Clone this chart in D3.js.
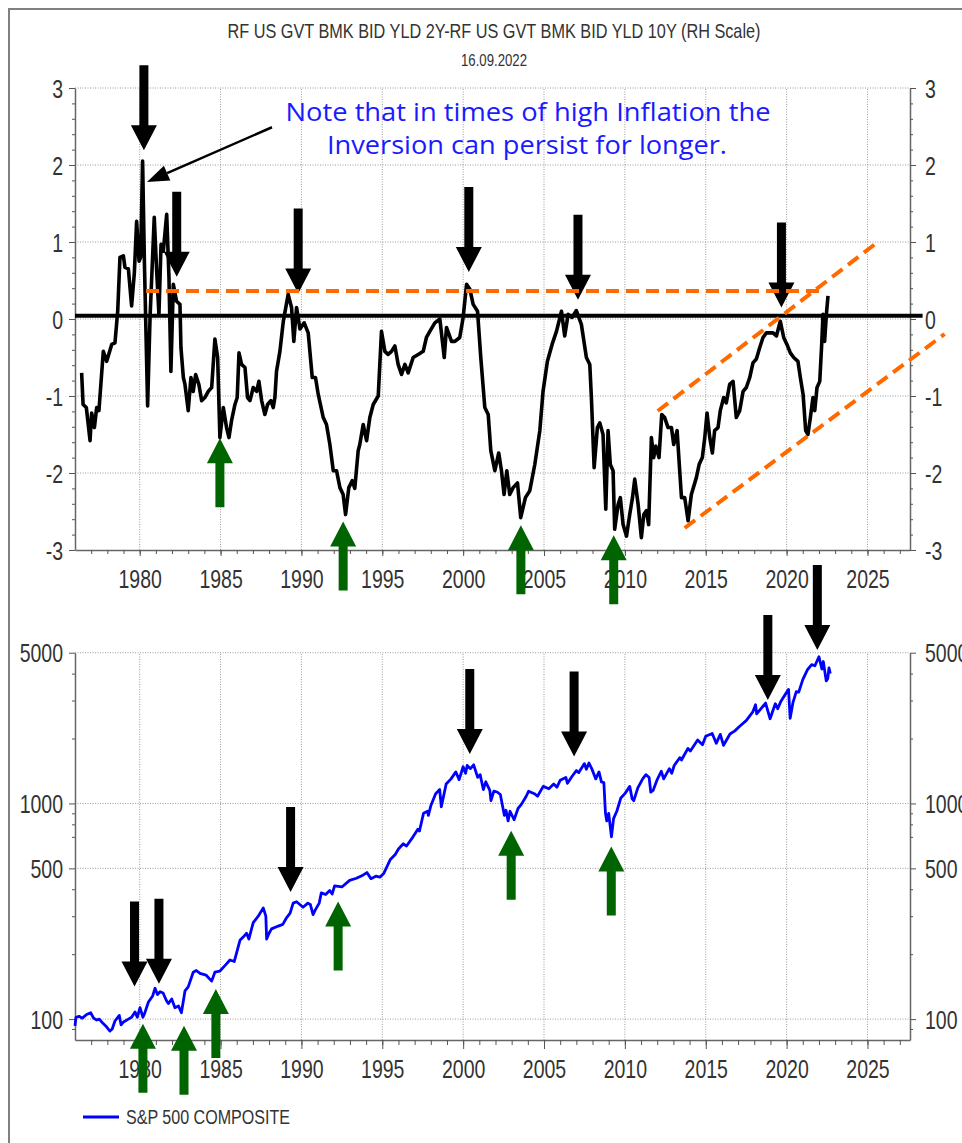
<!DOCTYPE html>
<html>
<head>
<meta charset="utf-8">
<script src="https://cdn.jsdelivr.net/npm/d3@7"></script>
<style>
  body { margin: 0; background: #fff; }
  svg { display: block; }
  .tick text { font-family: "Liberation Sans", Arial, sans-serif; font-size: 25px; fill: #333; }
  .tick line { stroke: #555; }
  .domain { stroke: #666; stroke-width: 1.5; }
</style>
</head>
<body>
<div id="chart"></div>
<script>
// 2Y - 10Y spread
const spreadYears = [1976.41,1976.50,1976.70,1976.93,1977.03,1977.20,1977.34,1977.48,1977.75,1977.96,1978.27,1978.47,1978.64,1978.78,1978.99,1979.09,1979.30,1979.50,1979.67,1979.81,1979.96,1980.06,1980.18,1980.29,1980.49,1980.64,1980.90,1981.05,1981.19,1981.32,1981.46,1981.67,1981.81,1981.93,1982.08,1982.28,1982.49,1982.55,1982.70,1982.80,1983.00,1983.17,1983.31,1983.46,1983.66,1983.83,1984.03,1984.24,1984.45,1984.65,1984.82,1984.96,1985.17,1985.37,1985.52,1985.68,1985.89,1986.03,1986.14,1986.30,1986.51,1986.67,1986.82,1987.02,1987.23,1987.37,1987.54,1987.74,1987.91,1988.11,1988.26,1988.36,1988.46,1988.67,1988.88,1989.18,1989.39,1989.53,1989.70,1989.91,1990.17,1990.42,1990.67,1990.87,1991.04,1991.35,1991.55,1991.76,1991.97,1992.17,1992.38,1992.58,1992.73,1992.93,1993.14,1993.30,1993.51,1993.61,1993.82,1994.03,1994.23,1994.44,1994.75,1994.95,1995.16,1995.36,1995.57,1995.78,1995.98,1996.19,1996.40,1996.60,1996.91,1997.22,1997.53,1997.73,1997.94,1998.25,1998.56,1998.83,1998.97,1999.28,1999.49,1999.79,2000.00,2000.21,2000.41,2000.62,2000.89,2001.09,2001.34,2001.55,2001.71,2001.96,2002.20,2002.37,2002.53,2002.70,2002.88,2003.09,2003.36,2003.56,2003.85,2004.12,2004.43,2004.74,2004.94,2005.21,2005.50,2005.77,2006.08,2006.28,2006.49,2006.74,2007.00,2007.31,2007.62,2007.83,2007.93,2008.10,2008.30,2008.45,2008.65,2008.82,2008.96,2009.10,2009.27,2009.37,2009.58,2009.72,2009.89,2010.10,2010.30,2010.47,2010.61,2010.82,2011.02,2011.17,2011.33,2011.47,2011.64,2011.78,2011.91,2012.11,2012.28,2012.46,2012.67,2012.88,2013.02,2013.23,2013.39,2013.50,2013.70,2013.91,2014.11,2014.42,2014.59,2014.79,2014.94,2015.08,2015.25,2015.41,2015.55,2015.76,2015.90,2016.11,2016.27,2016.48,2016.69,2016.89,2017.10,2017.31,2017.51,2017.72,2017.92,2018.13,2018.34,2018.54,2018.75,2018.95,2019.16,2019.37,2019.61,2019.82,2020.02,2020.23,2020.44,2020.70,2020.85,2021.02,2021.18,2021.32,2021.47,2021.63,2021.74,2021.88,2022.05,2022.17,2022.25,2022.35,2022.46,2022.56];
const spreadValues = [-0.70,-1.11,-1.15,-1.58,-1.22,-1.41,-1.15,-1.19,-0.42,-0.55,-0.33,-0.31,0.10,0.80,0.82,0.67,0.65,0.17,0.60,1.27,0.75,0.80,2.05,0.75,-1.13,0.02,1.32,0.62,0.06,0.97,0.88,1.36,0.54,-0.68,0.45,0.23,0.19,-0.37,-0.76,-0.85,-1.19,-0.76,-0.94,-0.72,-0.85,-1.06,-1.02,-0.94,-0.89,-0.26,-0.50,-1.54,-1.15,-1.41,-1.54,-1.32,-1.11,-1.02,-0.44,-0.59,-0.63,-1.02,-1.06,-0.89,-0.94,-0.81,-1.06,-1.24,-1.11,-1.06,-1.15,-1.02,-0.68,-0.42,-0.03,0.32,0.15,-0.29,0.15,-0.13,-0.05,-0.18,-0.76,-0.76,-0.98,-1.28,-1.37,-1.63,-1.97,-1.97,-2.19,-2.28,-2.54,-2.19,-2.10,-2.20,-1.71,-1.63,-1.37,-1.58,-1.28,-1.11,-1.00,-0.16,-0.42,-0.46,-0.42,-0.35,-0.59,-0.72,-0.59,-0.70,-0.50,-0.46,-0.42,-0.24,-0.16,-0.05,0.00,-0.50,-0.11,-0.29,-0.29,-0.24,0.02,0.45,0.39,0.19,0.10,-0.50,-1.15,-1.24,-1.71,-1.97,-1.74,-1.97,-2.28,-1.97,-2.28,-2.19,-2.13,-2.58,-2.32,-2.23,-1.89,-1.45,-0.94,-0.55,-0.33,-0.16,0.10,-0.22,0.06,0.02,0.11,-0.07,-0.50,-0.59,-1.02,-1.93,-1.41,-1.35,-1.50,-2.47,-1.45,-1.89,-1.97,-2.73,-2.41,-2.32,-2.67,-2.82,-2.54,-2.32,-2.08,-2.41,-2.84,-2.54,-2.49,-2.67,-1.54,-1.80,-1.65,-1.80,-1.24,-1.28,-1.41,-1.41,-1.63,-1.45,-1.97,-2.32,-2.32,-2.62,-2.28,-2.06,-1.89,-1.80,-1.54,-1.22,-1.54,-1.74,-1.45,-1.41,-1.19,-1.02,-1.09,-0.85,-0.81,-1.28,-1.19,-0.94,-0.89,-0.76,-0.57,-0.52,-0.37,-0.24,-0.18,-0.18,-0.18,-0.22,-0.03,-0.24,-0.33,-0.44,-0.50,-0.55,-0.76,-0.98,-1.45,-1.50,-1.28,-1.02,-1.19,-0.89,-0.81,-0.33,0.06,-0.29,0.06,0.30];

// S&P 500 composite
const spxYears = [1976.00,1976.06,1976.25,1976.45,1976.72,1976.97,1977.15,1977.34,1977.50,1977.65,1977.90,1978.16,1978.30,1978.47,1978.74,1978.85,1979.00,1979.30,1979.50,1979.71,1979.85,1980.02,1980.20,1980.30,1980.54,1980.80,1980.95,1981.10,1981.26,1981.45,1981.65,1981.77,1981.98,1982.18,1982.40,1982.58,1982.80,1983.00,1983.31,1983.50,1983.73,1984.10,1984.45,1984.65,1984.96,1985.30,1985.58,1985.85,1986.20,1986.40,1986.61,1986.75,1987.02,1987.33,1987.64,1987.80,1987.85,1988.00,1988.15,1988.57,1988.85,1989.08,1989.30,1989.49,1989.70,1989.90,1990.10,1990.40,1990.55,1990.72,1990.85,1991.10,1991.23,1991.50,1991.75,1991.90,1992.05,1992.50,1992.98,1993.40,1993.80,1994.05,1994.30,1994.60,1994.85,1995.10,1995.50,1995.80,1996.00,1996.30,1996.50,1996.90,1997.20,1997.30,1997.55,1997.80,1997.85,1998.00,1998.30,1998.55,1998.65,1998.95,1999.25,1999.55,1999.75,2000.00,2000.15,2000.25,2000.45,2000.65,2000.90,2001.05,2001.25,2001.40,2001.65,2001.72,2001.90,2002.10,2002.30,2002.55,2002.65,2002.78,2002.90,2003.15,2003.40,2003.60,2003.90,2004.05,2004.40,2004.60,2004.95,2005.30,2005.60,2005.80,2006.00,2006.35,2006.45,2006.75,2007.00,2007.15,2007.50,2007.62,2007.78,2007.95,2008.20,2008.40,2008.55,2008.70,2008.80,2008.88,2009.00,2009.17,2009.30,2009.50,2009.75,2010.00,2010.30,2010.45,2010.55,2010.80,2011.10,2011.30,2011.50,2011.60,2011.75,2012.00,2012.25,2012.40,2012.75,2012.90,2013.05,2013.40,2013.50,2013.90,2014.05,2014.50,2014.80,2015.00,2015.40,2015.65,2015.90,2016.10,2016.50,2016.80,2017.10,2017.50,2017.90,2018.08,2018.15,2018.70,2018.98,2019.30,2019.45,2019.65,2019.95,2020.12,2020.22,2020.40,2020.60,2020.75,2021.00,2021.30,2021.55,2021.75,2022.00,2022.18,2022.27,2022.45,2022.55,2022.62,2022.70];
const spxValues = [93,102,103,101,105,107,101,99,100,97,93,88,90,98,104,94,97,100,102,108,102,113,102,106,120,128,139,130,134,132,122,118,124,113,115,107,135,141,165,168,163,160,150,165,167,178,188,185,232,240,250,235,280,300,328,300,235,250,262,270,275,295,310,345,350,340,330,345,340,305,320,345,385,378,395,380,415,410,440,450,465,478,448,460,455,475,550,580,615,650,635,700,760,745,900,920,880,975,1110,1160,965,1230,1300,1400,1290,1480,1380,1500,1450,1510,1320,1360,1160,1260,1150,1030,1140,1130,1100,880,930,830,920,840,950,990,1080,1140,1110,1080,1200,1170,1230,1190,1280,1320,1240,1340,1420,1390,1530,1440,1540,1450,1300,1400,1260,1250,900,830,900,700,850,920,1060,1110,1200,1050,1030,1180,1300,1360,1320,1130,1150,1290,1410,1300,1450,1380,1500,1630,1590,1800,1750,1970,1870,2050,2110,1900,2090,1860,2100,2170,2280,2420,2650,2870,2600,2920,2470,2900,2750,2980,3230,3380,2480,2950,3300,3280,3750,4180,4400,4350,4790,4200,4550,3700,3800,4250,4000];

const yearTicks = [1980, 1985, 1990, 1995, 2000, 2005, 2010, 2015, 2020, 2025];
const yearMinor = d3.range(1977, 2028);
const spreadTicks = [-3, -2, -1, 0, 1, 2, 3];
const spreadMinor = d3.range(-3, 3.01, 0.2);
const spxTicks = [100, 500, 1000, 5000];
const spxMinor = [90, 200, 300, 400, 700, 800, 900, 2000, 3000, 4000];

// annotations: [year, tip value]
const topDownArrows = [[1980.26, 2.19], [1982.29, 0.55], [1989.80, 0.33], [2000.35, 0.61], [2007.10, 0.25], [2019.68, 0.15]];
const topUpArrows = [[1984.96, -1.55], [1992.58, -2.63], [2003.57, -2.68], [2009.31, -2.81]];
const botDownArrows = [[1979.68, 141.6], [1981.19, 146], [1989.33, 388], [2000.41, 1697], [2006.86, 1649], [2018.84, 3020], [2021.90, 5146]];
const botUpArrows = [[1980.20, 95.1], [1982.74, 93.1], [1984.71, 137.8], [1992.27, 351], [2002.97, 748], [2009.16, 631]];
const levelLine = [[1980.39, 0.364], [2022.17, 0.364]];
const channelUpper = [[2012.03, -1.195], [2025.63, 0.999]];
const channelLower = [[2013.70, -2.714], [2029.77, -0.195]];
const zeroLine = [[1976, 0.043], [2028.41, 0.043]];
const noteArrow = [[1988.18, 2.49], [1980.45, 1.78]];

const width = 962, height = 1143;
const svg = d3.select("#chart").append("svg")
    .attr("width", width)
    .attr("height", height);

const x = d3.scaleLinear().domain([1976, 2027.63]).range([75, 910]);
const yTop = d3.scaleLinear().domain([-3, 3]).range([550, 88]);
const yBot = d3.scaleLog().domain([80, 5000]).range([1040, 652.7]);

const narrow = '"Liberation Sans", Arial, sans-serif';
const squeeze = 0.78;   // labels in the original are condensed
const orange = "#ff6a00";
const green = "#006400";
const label = d => d < 0 ? "-" + Math.abs(d) : String(d);

// outer frame
svg.append("rect")
    .attr("x", 9).attr("y", 9)
    .attr("width", 1000).attr("height", 1200)
    .attr("fill", "none").attr("stroke", "#808080").attr("stroke-width", 2);

svg.append("text")
    .attr("x", 494).attr("y", 38)
    .attr("text-anchor", "middle")
    .attr("font-family", narrow).attr("font-size", 21).attr("fill", "#333")
    .attr("textLength", 533).attr("lengthAdjust", "spacingAndGlyphs")
    .text("RF US GVT BMK BID YLD 2Y-RF US GVT BMK BID YLD 10Y (RH Scale)");

svg.append("text")
    .attr("x", 494).attr("y", 66)
    .attr("text-anchor", "middle")
    .attr("font-family", narrow).attr("font-size", 16).attr("fill", "#333")
    .attr("textLength", 66).attr("lengthAdjust", "spacingAndGlyphs")
    .text("16.09.2022");

function grid(y, values) {
    const [y0, y1] = y.range();
    const g = svg.append("g")
        .attr("stroke", "#9a9a9a").attr("stroke-width", 1).attr("stroke-dasharray", "1,1.5");
    g.selectAll(".v").data(yearTicks).enter().append("line")
        .attr("x1", d => x(d)).attr("x2", d => x(d))
        .attr("y1", y0).attr("y2", y1);
    g.selectAll(".h").data(values).enter().append("line")
        .attr("x1", x.range()[0]).attr("x2", x.range()[1])
        .attr("y1", d => y(d)).attr("y2", d => y(d));
}

function axes(y, majors, minors, xMajor, xMinor) {
    const bottom = y.range()[0];
    svg.append("g").attr("transform", `translate(75,0)`)
        .call(d3.axisLeft(y).tickValues(majors).tickSize(6).tickSizeOuter(0).tickFormat(label))
        .call(g => g.selectAll("text").attr("x", -12 / squeeze).attr("dy", "0.36em")
            .attr("transform", `scale(${squeeze},1)`));
    svg.append("g").attr("transform", `translate(75,0)`)
        .call(d3.axisLeft(y).tickValues(minors).tickSize(3).tickFormat(""))
        .call(g => g.select(".domain").remove());
    svg.append("g").attr("transform", `translate(910,0)`)
        .call(d3.axisRight(y).tickValues(majors).tickSize(6).tickSizeOuter(0).tickFormat(label))
        .call(g => g.selectAll("text").attr("x", 15 / squeeze).attr("dy", "0.36em")
            .attr("transform", `scale(${squeeze},1)`));
    svg.append("g").attr("transform", `translate(910,0)`)
        .call(d3.axisRight(y).tickValues(minors).tickSize(3).tickFormat(""))
        .call(g => g.select(".domain").remove());
    svg.append("g").attr("transform", `translate(0,${bottom})`)
        .call(d3.axisBottom(x).tickValues(yearTicks).tickSize(xMajor).tickSizeOuter(0).tickFormat(d3.format("d")))
        .call(g => g.selectAll("text").attr("y", 29).attr("dy", "0.36em")
            .attr("transform", `scale(${squeeze},1)`));
    svg.append("g").attr("transform", `translate(0,${bottom})`)
        .call(d3.axisBottom(x).tickValues(yearMinor).tickSize(xMinor).tickFormat(""))
        .call(g => g.select(".domain").remove());
}

function arrow(px, tipY, dir, color) {
    // dir 1 = pointing down, -1 = pointing up
    const len = color === green ? 69 : 85;
    const head = 25, hw = 13, sw = 4.5;
    const base = tipY - dir * head, tail = tipY - dir * len;
    svg.append("path")
        .attr("d", `M${px - sw},${tail}L${px + sw},${tail}L${px + sw},${base}L${px + hw},${base}L${px},${tipY}L${px - hw},${base}L${px - sw},${base}Z`)
        .attr("fill", color);
}

// ---- top panel
grid(yTop, [-2, -1, 0, 1, 2, 3]);
axes(yTop, spreadTicks, spreadMinor, 6, 4);

const spreadLine = d3.line().x(d => x(d[0])).y(d => yTop(d[1]));
svg.append("path")
    .datum(d3.zip(spreadYears, spreadValues))
    .attr("d", spreadLine)
    .attr("fill", "none").attr("stroke", "#000").attr("stroke-width", 3.6)
    .attr("stroke-linejoin", "round");

svg.append("path").datum(zeroLine).attr("d", spreadLine)
    .attr("stroke", "#000").attr("stroke-width", 4);

topDownArrows.forEach(d => arrow(x(d[0]), yTop(d[1]), 1, "#000"));
topUpArrows.forEach(d => arrow(x(d[0]), yTop(d[1]), -1, green));

[levelLine, channelUpper, channelLower].forEach(seg => {
    svg.append("path").datum(seg).attr("d", spreadLine)
        .attr("stroke", orange).attr("stroke-width", 4).attr("stroke-dasharray", "13,7");
});

// note with pointer arrow
const [p0, p1] = noteArrow.map(d => [x(d[0]), yTop(d[1])]);
const ang = Math.atan2(p1[1] - p0[1], p1[0] - p0[0]);
const hl = 22, hwid = 8;
const bx = p1[0] - hl * Math.cos(ang), by = p1[1] - hl * Math.sin(ang);
svg.append("line")
    .attr("x1", p0[0]).attr("y1", p0[1]).attr("x2", bx).attr("y2", by)
    .attr("stroke", "#000").attr("stroke-width", 2.5);
svg.append("path")
    .attr("d", `M${p1[0]},${p1[1]}L${bx - hwid * Math.sin(ang)},${by + hwid * Math.cos(ang)}L${bx + hwid * Math.sin(ang)},${by - hwid * Math.cos(ang)}Z`)
    .attr("fill", "#000");

const note = svg.append("g")
    .attr("font-family", '"Open Sans", Lato, sans-serif').attr("font-size", 26)
    .attr("fill", "#1a1aff").attr("text-anchor", "middle");
note.append("text").attr("x", 528).attr("y", 121)
    .attr("textLength", 485).attr("lengthAdjust", "spacingAndGlyphs")
    .text("Note that in times of high Inflation the");
note.append("text").attr("x", 527).attr("y", 154)
    .attr("textLength", 400).attr("lengthAdjust", "spacingAndGlyphs")
    .text("Inversion can persist for longer.");

// ---- bottom panel
grid(yBot, spxTicks);
axes(yBot, spxTicks, spxMinor, 9, 5);

const spxLine = d3.line().x(d => x(d[0])).y(d => yBot(d[1]));
svg.append("path")
    .datum(d3.zip(spxYears, spxValues))
    .attr("d", spxLine)
    .attr("fill", "none").attr("stroke", "#0000ff").attr("stroke-width", 2.8)
    .attr("stroke-linejoin", "round");

botDownArrows.forEach(d => arrow(x(d[0]), yBot(d[1]), 1, "#000"));
botUpArrows.forEach(d => arrow(x(d[0]), yBot(d[1]), -1, green));

// legend
svg.append("line")
    .attr("x1", 83).attr("x2", 119).attr("y1", 1117).attr("y2", 1117)
    .attr("stroke", "#0000ff").attr("stroke-width", 3);
svg.append("text")
    .attr("x", 126).attr("y", 1124)
    .attr("font-family", narrow).attr("font-size", 20).attr("fill", "#333")
    .attr("textLength", 164).attr("lengthAdjust", "spacingAndGlyphs")
    .text("S&P 500 COMPOSITE");
</script>
</body>
</html>
